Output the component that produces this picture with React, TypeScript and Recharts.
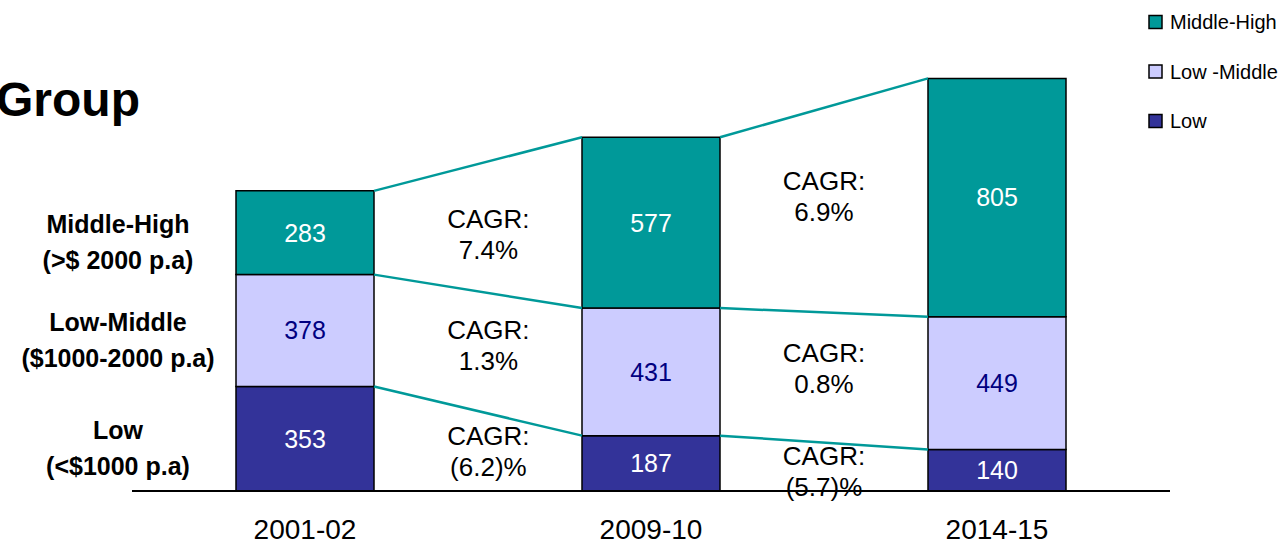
import React from "react"
import {
    Bar,
    ComposedChart,
    LabelList,
    Legend,
    ReferenceDot,
    ReferenceLine,
    XAxis,
    YAxis,
} from "recharts"

// data
const years = ["2001-02", "2009-10", "2014-15"]
const lowValues = [353, 187, 140]
const lowMiddleValues = [378, 431, 449]
const middleHighValues = [283, 577, 805]
// CAGR notes per gap, ordered low -> low-middle -> middle-high
const cagrTexts = [
    ["(6.2)%", "1.3%", "7.4%"],
    ["(5.7)%", "0.8%", "6.9%"],
]
const groupLabels = [
    ["Low", "(<$1000 p.a)"],
    ["Low-Middle", "($1000-2000 p.a)"],
    ["Middle-High", "(>$ 2000 p.a)"],
]

const TEAL = "#009999"
const LAVENDER = "#CCCCFF"
const NAVY = "#333399"
const FONT = "'Liberation Sans', Arial, sans-serif"

const series = [
    { key: "low", name: "Low", fill: NAVY, label: "#ffffff" },
    { key: "lowMiddle", name: "Low -Middle", fill: LAVENDER, label: "#000080" },
    { key: "middleHigh", name: "Middle-High", fill: TEAL, label: "#ffffff" },
]

// years sit at the middle of equal slots on a numeric axis
const data = years.map((year, i) => ({
    pos: i + 0.5,
    year,
    low: lowValues[i],
    lowMiddle: lowMiddleValues[i],
    middleHigh: middleHighValues[i],
}))

// stacked boundaries for each year: [low, low+lowMiddle, total]
const bounds = years.map((_, i) => [
    lowValues[i],
    lowValues[i] + lowMiddleValues[i],
    lowValues[i] + lowMiddleValues[i] + middleHighValues[i],
])

// mid points of the first bar's segments (anchor for the left labels)
const firstBarMids = [0, 1, 2].map(k => (k === 0 ? bounds[0][0] / 2 : (bounds[0][k - 1] + bounds[0][k]) / 2))

const BAR_SIZE = 138
const SLOT = 346
const HALF = BAR_SIZE / 2 / SLOT

const connectors = years.slice(0, -1).flatMap((_, i) =>
    [0, 1, 2].map(k => ({
        from: { x: i + 0.5 + HALF, y: bounds[i][k] },
        to: { x: i + 1.5 - HALF, y: bounds[i + 1][k] },
    }))
)

// where the CAGR notes sit (x on the axis, y in data units)
const cagrX = [1.03, 2.0]
const cagrY = [
    [136, 493, 868],
    [66, 414, 995],
]

const XTick = (props: any) => {
    const { x, y, payload } = props
    return (
        <text x={x} y={y + 48} textAnchor="middle" fontSize={28} fontFamily={FONT} fill="#000">
            {years[Math.round(payload.value - 0.5)]}
        </text>
    )
}

const YTick = (props: any) => {
    const { y, payload } = props
    const idx = firstBarMids.indexOf(payload.value)
    const lines = groupLabels[idx] || []
    return (
        <g>
            <text x={118} y={y} textAnchor="middle" fontSize={25} fontWeight="bold" fontFamily={FONT} fill="#000">
                {lines[0]}
            </text>
            <text x={118} y={y + 36} textAnchor="middle" fontSize={25} fontWeight="bold" fontFamily={FONT} fill="#000">
                {lines[1]}
            </text>
        </g>
    )
}

const renderLegend = () => (
    <svg width={145} height={140}>
        {[...series].reverse().map((s, i) => (
            <g key={s.key}>
                <rect x={10} y={15.5 + i * 49.5} width={13} height={13} fill={s.fill} stroke="#000" strokeWidth={1.5} />
                <text x={31} y={29 + i * 49.5} fontSize={20} fontFamily={FONT} fill="#000">
                    {s.name}
                </text>
            </g>
        ))}
    </svg>
)

const cagrShape = (text: string) => (props: any) => {
    const { cx, cy } = props
    return (
        <g>
            <text x={cx} y={cy - 6} textAnchor="middle" fontSize={26} fontFamily={FONT} fill="#000">
                CAGR:
            </text>
            <text x={cx} y={cy + 25} textAnchor="middle" fontSize={26} fontFamily={FONT} fill="#000">
                {text}
            </text>
        </g>
    )
}

const App = () => {
    return (
        <div style={{ position: "absolute", left: 0, top: 0, width: 1284, height: 541, background: "#fff" }}>
            <div
                style={{
                    position: "absolute",
                    left: -4,
                    top: 72,
                    fontFamily: FONT,
                    fontWeight: "bold",
                    fontSize: 48,
                    lineHeight: "56px",
                    color: "#000",
                }}
            >
                Group
            </div>
            <ComposedChart width={1284} height={541} data={data} margin={{ top: 47, right: 114, bottom: 20, left: 0 }}>
                <XAxis
                    dataKey="pos"
                    type="number"
                    domain={[0, 3]}
                    allowDataOverflow
                    ticks={[0.5, 1.5, 2.5]}
                    height={30}
                    tickLine={false}
                    tickSize={0}
                    tickMargin={0}
                    axisLine={{ stroke: "#000", strokeWidth: 2 }}
                    tick={<XTick />}
                    interval={0}
                />
                <YAxis
                    width={132}
                    domain={[0, 1500]}
                    ticks={firstBarMids}
                    axisLine={false}
                    tickLine={false}
                    tick={<YTick />}
                    interval={0}
                />
                <Legend
                    layout="vertical"
                    align="center"
                    verticalAlign="middle"
                    content={renderLegend}
                    wrapperStyle={{ left: 1139, top: 0, width: 145, height: 140 }}
                />
                {series.map(s => (
                    <Bar
                        key={s.key}
                        dataKey={s.key}
                        name={s.name}
                        stackId="a"
                        fill={s.fill}
                        stroke="#000"
                        strokeWidth={1.5}
                        barSize={BAR_SIZE}
                        isAnimationActive={false}
                    >
                        <LabelList dataKey={s.key} position="center" fill={s.label} fontSize={25} fontFamily={FONT} />
                    </Bar>
                ))}
                {connectors.map((c, i) => (
                    <ReferenceLine
                        key={`c${i}`}
                        segment={[c.from, c.to]}
                        stroke={TEAL}
                        strokeWidth={2.5}
                        ifOverflow="visible"
                    />
                ))}
                {cagrTexts.map((pair, i) =>
                    pair.map((t, k) => (
                        <ReferenceDot
                            key={`g${i}${k}`}
                            x={cagrX[i]}
                            y={cagrY[i][k]}
                            r={0}
                            ifOverflow="visible"
                            shape={cagrShape(t)}
                        />
                    ))
                )}
            </ComposedChart>
        </div>
    )
}

export default App
